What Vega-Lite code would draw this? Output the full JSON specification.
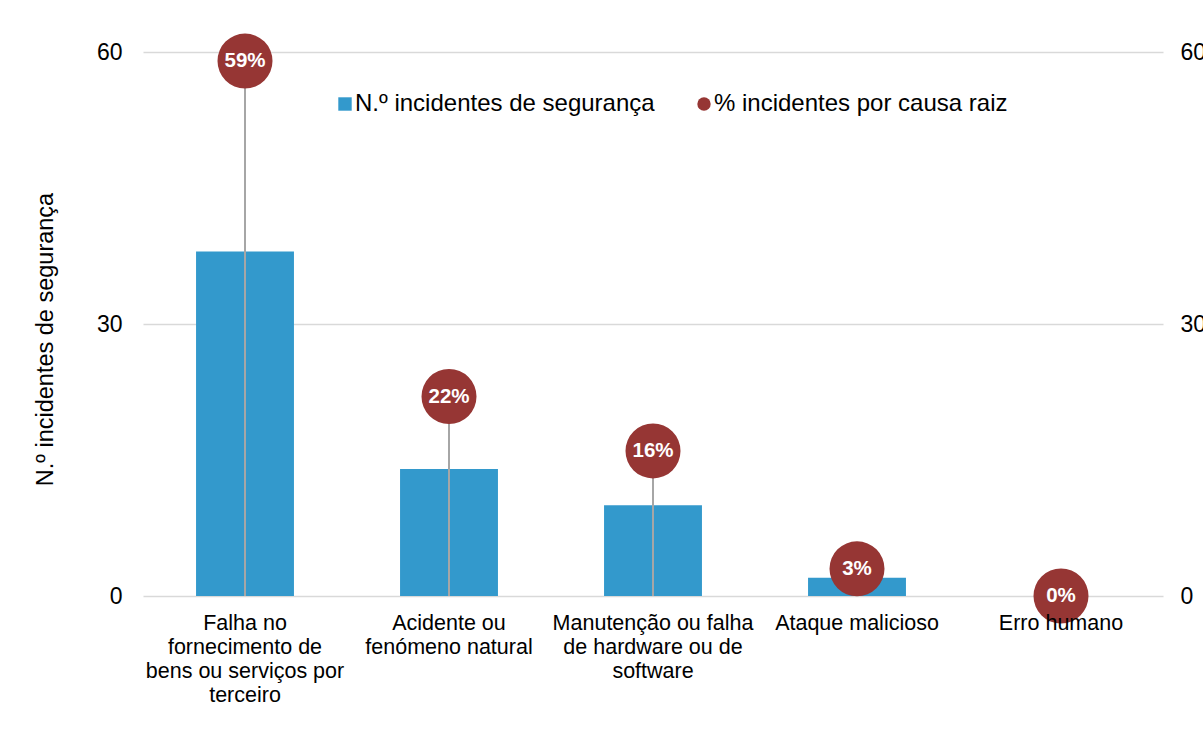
{
  "$schema": "https://vega.github.io/schema/vega-lite/v6.json",
  "autosize": "none",
  "width": 1020,
  "height": 544,
  "padding": {"left": 143, "top": 52, "right": 40, "bottom": 144},
  "background": "white",
  "config": {
    "font": "Liberation Sans",
    "view": {"stroke": null},
    "axis": {"labelFont": "Liberation Sans", "titleFont": "Liberation Sans", "labelColor": "#000000", "titleColor": "#000000"}
  },
  "data": {
    "values": [
      {"causa": "Falha no|fornecimento de|bens ou serviços por|terceiro", "n": 38, "pct": 59, "rotulo": "59%"},
      {"causa": "Acidente ou|fenómeno natural", "n": 14, "pct": 22, "rotulo": "22%"},
      {"causa": "Manutenção ou falha|de hardware ou de|software", "n": 10, "pct": 16, "rotulo": "16%"},
      {"causa": "Ataque malicioso", "n": 2, "pct": 3, "rotulo": "3%"},
      {"causa": "Erro humano", "n": 0, "pct": 0, "rotulo": "0%"}
    ]
  },
  "encoding": {
    "x": {
      "field": "causa",
      "type": "nominal",
      "sort": null,
      "scale": {"paddingInner": 0.52, "paddingOuter": 0.26},
      "axis": {
        "title": null,
        "labelAngle": 0,
        "labelExpr": "split(datum.label, '|')",
        "labelFontSize": 21.5,
        "labelLineHeight": 24,
        "labelPadding": 33,
        "labelLimit": 0,
        "labelBaseline": "alphabetic",
        "domain": false,
        "ticks": false,
        "zindex": 1,
        "encode": {
          "labels": {
            "lineHeight": {"signal": "indexof(datum.value, 'Manuten') === 0 ? 37 : 24"},
            "dy": {"signal": "indexof(datum.value, 'Manuten') === 0 ? -12 : 0"}
          }
        }
      }
    }
  },
  "layer": [
    {
      "mark": {"type": "bar", "color": "#3399cc"},
      "encoding": {
        "y": {
          "field": "n",
          "type": "quantitative",
          "scale": {"domain": [0, 60]},
          "axis": {
            "title": "N.º incidentes de segurança",
            "titleFontSize": 23.5,
            "titleFontWeight": "normal",
            "titleX": -98,
            "titleY": 287,
            "titleAlign": "center",
            "titleBaseline": "middle",
            "values": [0, 30, 60],
            "labelFontSize": 23,
            "labelPadding": 21,
            "ticks": false,
            "domain": false,
            "grid": true,
            "gridColor": "#d9d9d9",
            "gridWidth": 1.5
          }
        },
        "color": {
          "datum": "N.º incidentes de segurança",
          "type": "nominal",
          "scale": {
            "domain": ["N.º incidentes de segurança", "% incidentes por causa raiz"],
            "range": ["#3399cc", "#963634"]
          },
          "legend": {
            "title": null,
            "orient": "none",
            "legendX": 190,
            "legendY": 40,
            "direction": "horizontal",
            "labelFontSize": 24,
            "labelFont": "Liberation Sans",
            "labelColor": "#000000",
            "symbolSize": 180,
            "symbolStrokeWidth": 0,
            "labelOffset": -2,
            "columnPadding": 37,
            "labelLimit": 0,
            "encode": {
              "symbols": {
                "update": {
                  "shape": {"signal": "datum.value === 'N.º incidentes de segurança' ? 'square' : 'circle'"},
                  "strokeWidth": {"value": 0}
                }
              }
            }
          }
        }
      }
    },
    {
      "layer": [
        {
          "mark": {"type": "rule", "color": "#a6a6a6", "strokeWidth": 2},
          "encoding": {
            "y": {"field": "pct", "type": "quantitative"},
            "y2": {"datum": 0}
          }
        },
        {
          "mark": {"type": "point", "filled": true, "size": 3025, "opacity": 1, "shape": "circle"},
          "encoding": {
            "y": {"field": "pct", "type": "quantitative"},
            "color": {"datum": "% incidentes por causa raiz", "type": "nominal"}
          }
        },
        {
          "mark": {"type": "text", "color": "white", "fontWeight": "bold", "fontSize": 20.5, "baseline": "middle", "align": "center"},
          "encoding": {
            "y": {"field": "pct", "type": "quantitative"},
            "text": {"field": "rotulo"}
          }
        }
      ],
      "encoding": {
        "y": {
          "field": "pct",
          "type": "quantitative",
          "scale": {"domain": [0, 60]},
          "axis": {
            "orient": "right",
            "title": null,
            "values": [0, 30, 60],
            "labelFontSize": 23,
            "labelPadding": 17,
            "ticks": false,
            "domain": false,
            "grid": false
          }
        }
      }
    }
  ],
  "resolve": {"scale": {"y": "independent"}}
}
